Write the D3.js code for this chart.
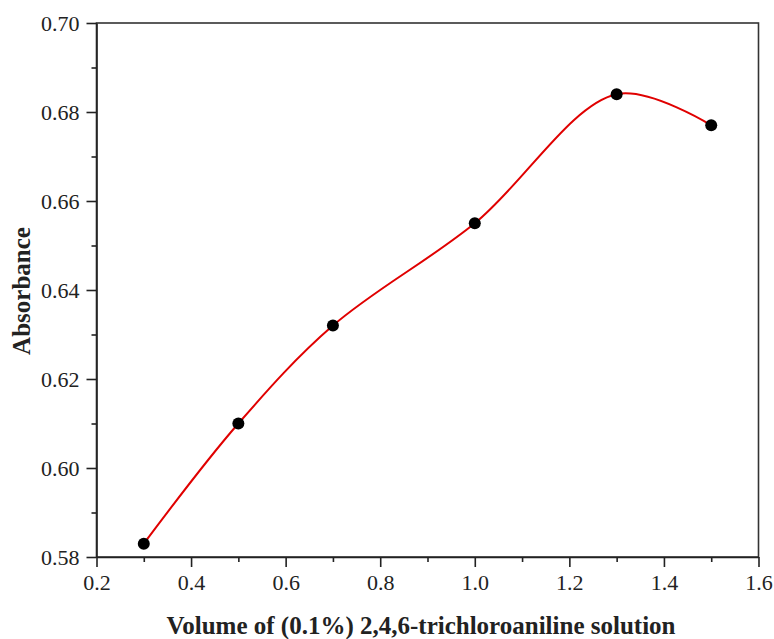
<!DOCTYPE html>
<html>
<head>
<meta charset="utf-8">
<script src="https://cdn.jsdelivr.net/npm/d3@7"></script>
<style>
  html, body { margin: 0; padding: 0; background: #fff; }
  svg { display: block; }
  text { font-family: "Liberation Serif", "Times New Roman", serif; fill: #222; }
</style>
</head>
<body>
<svg id="chart" width="774" height="639"></svg>
<script>
// Absorbance vs. reagent volume
const volumes = [0.3, 0.5, 0.7, 1.0, 1.3, 1.5];
const absorbance = [0.583, 0.610, 0.632, 0.655, 0.684, 0.677];
const xTicks = [0.2, 0.4, 0.6, 0.8, 1.0, 1.2, 1.4, 1.6];
const yTicks = [0.58, 0.60, 0.62, 0.64, 0.66, 0.68, 0.70];
const xMinor = [0.3, 0.5, 0.7, 0.9, 1.1, 1.3, 1.5];
const yMinor = [0.59, 0.61, 0.63, 0.65, 0.67, 0.69];

const svg = d3.select("#chart");
const plotLeft = 96.5, plotRight = 758.5, plotTop = 23, plotBottom = 557;
const serif = "'Liberation Serif', 'Times New Roman', serif";

const x = d3.scaleLinear().domain([0.2, 1.6]).range([plotLeft, plotRight]);
const y = d3.scaleLinear().domain([0.58, 0.70]).range([plotBottom, plotTop]);

// frame (top and right edges)
svg.append("rect")
  .attr("x", plotLeft).attr("y", plotTop)
  .attr("width", plotRight - plotLeft).attr("height", plotBottom - plotTop)
  .attr("fill", "none").attr("stroke", "#333").attr("stroke-width", 1.6);

function styleAxis(g) {
  g.attr("font-family", serif);
  g.select(".domain").attr("stroke", "#222").attr("stroke-width", 1.6);
  g.selectAll(".tick line").attr("stroke", "#222").attr("stroke-width", 1.6);
  g.selectAll(".tick text")
    .attr("font-family", serif)
    .attr("font-size", 22).attr("fill", "#222");
}

// bottom axis
const gx = svg.append("g").attr("transform", `translate(0,${plotBottom})`)
  .call(d3.axisBottom(x).tickValues(xTicks).tickFormat(d3.format(".1f")).tickSize(10).tickPadding(7).tickSizeOuter(0));
styleAxis(gx);
svg.append("g").attr("transform", `translate(0,${plotBottom})`)
  .call(d3.axisBottom(x).tickValues(xMinor).tickFormat("").tickSize(5).tickSizeOuter(0))
  .call(g => { g.select(".domain").remove(); g.selectAll(".tick line").attr("stroke", "#222").attr("stroke-width", 1.6); });

// left axis
const gy = svg.append("g").attr("transform", `translate(${plotLeft},0)`)
  .call(d3.axisLeft(y).tickValues(yTicks).tickFormat(d3.format(".2f")).tickSize(10).tickPadding(7).tickSizeOuter(0));
styleAxis(gy);
svg.append("g").attr("transform", `translate(${plotLeft},0)`)
  .call(d3.axisLeft(y).tickValues(yMinor).tickFormat("").tickSize(5).tickSizeOuter(0))
  .call(g => { g.select(".domain").remove(); g.selectAll(".tick line").attr("stroke", "#222").attr("stroke-width", 1.6); });

// smooth curve through the points
const pts = volumes.map((v, i) => [v, absorbance[i]]);
const line = d3.line().x(d => x(d[0])).y(d => y(d[1])).curve(d3.curveCatmullRom.alpha(0.5));
svg.append("path").datum(pts)
  .attr("d", line)
  .attr("fill", "none").attr("stroke", "#e00000").attr("stroke-width", 2);

// data points
svg.append("g").selectAll("circle").data(pts).join("circle")
  .attr("cx", d => x(d[0])).attr("cy", d => y(d[1]))
  .attr("r", 6).attr("fill", "#000");

// axis titles
svg.append("text")
  .attr("x", 421).attr("y", 634)
  .attr("text-anchor", "middle")
  .attr("font-family", serif)
  .attr("font-size", 25).attr("font-weight", "bold").attr("fill", "#111")
  .text("Volume of (0.1%) 2,4,6-trichloroaniline solution");

svg.append("text")
  .attr("transform", `translate(30,${291}) rotate(-90)`)
  .attr("text-anchor", "middle")
  .attr("font-family", serif)
  .attr("font-size", 25).attr("font-weight", "bold").attr("fill", "#111")
  .text("Absorbance");
</script>
</body>
</html>
